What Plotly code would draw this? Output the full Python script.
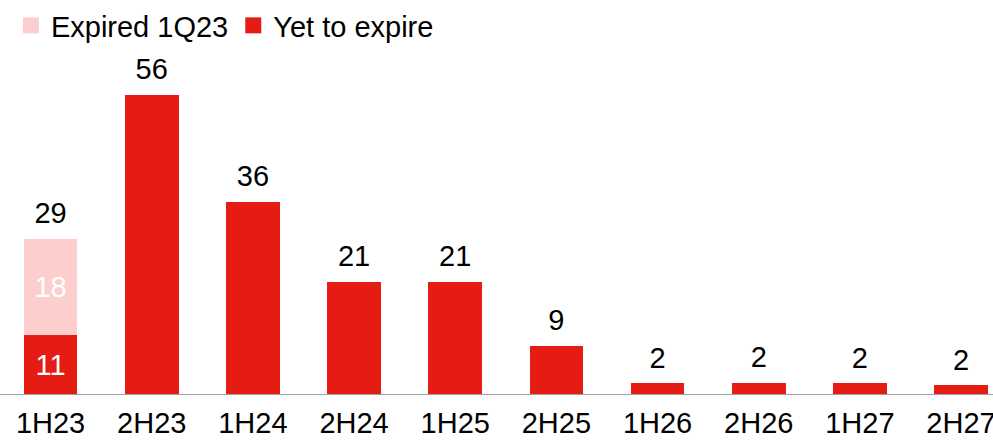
import plotly.graph_objects as go

categories = ["1H23", "2H23", "1H24", "2H24", "1H25", "2H25", "1H26", "2H26", "1H27", "2H27"]
expired_1q23 = [18, None, None, None, None, None, None, None, None, None]
yet_to_expire = [11, 56, 36, 21, 21, 9, 2.0, 2.1, 2.0, 1.6]

totals = [(e or 0) + y for e, y in zip(expired_1q23, yet_to_expire)]
total_labels = [str(round(t)) for t in totals]
expired_labels = [str(round(e)) if e else "" for e in expired_1q23]
yet_labels = [str(round(y)) if e else "" for e, y in zip(expired_1q23, yet_to_expire)]

RED = "rgb(228,28,20)"
PINK = "rgb(252,206,206)"
FONT = "Liberation Sans, Arial, sans-serif"

fig = go.Figure()
# legend entries (first so they appear in this order)
fig.add_trace(go.Scatter(
    x=[None], y=[None], mode="markers", name="Expired 1Q23",
    marker=dict(symbol="square", size=16, color=PINK),
))
fig.add_trace(go.Scatter(
    x=[None], y=[None], mode="markers", name="Yet to expire",
    marker=dict(symbol="square", size=16, color=RED),
))
fig.add_trace(go.Bar(
    x=categories, y=yet_to_expire, name="Yet to expire",
    marker=dict(color=RED, line=dict(width=0)),
    text=yet_labels, textposition="inside", insidetextanchor="middle",
    textfont=dict(color="white", size=29, family=FONT),
    showlegend=False, width=0.53,
))
fig.add_trace(go.Bar(
    x=categories, y=expired_1q23, name="Expired 1Q23",
    marker=dict(color=PINK, line=dict(width=0)),
    text=expired_labels, textposition="inside", insidetextanchor="middle",
    textfont=dict(color="white", size=29, family=FONT),
    showlegend=False, width=0.53,
))
fig.add_trace(go.Scatter(
    x=categories, y=totals, mode="markers+text", text=total_labels,
    textposition="top center", marker=dict(size=12, opacity=0),
    textfont=dict(color="black", size=29, family=FONT),
    showlegend=False, hoverinfo="skip",
))

fig.update_layout(
    width=993, height=440,
    margin=dict(l=0, r=0, t=0, b=46),
    barmode="stack",
    plot_bgcolor="white", paper_bgcolor="white",
    font=dict(family=FONT, size=29, color="black"),
    legend=dict(
        orientation="h", x=0.011, y=1.0, xanchor="left", yanchor="top",
        traceorder="normal",
        font=dict(size=29, color="black"),
        itemwidth=30, bgcolor="rgba(0,0,0,0)",
    ),
    xaxis=dict(
        type="category", range=[-0.5, 9.316],
        showline=True, linecolor="#a0a0a0", linewidth=1,
        ticks="", showgrid=False, zeroline=False,
        ticklabelstandoff=3, automargin=False,
        tickfont=dict(size=29, color="black"),
    ),
    yaxis=dict(
        range=[0, 73.8], visible=False, showgrid=False, zeroline=False,
    ),
)

fig.write_html("out.html")
